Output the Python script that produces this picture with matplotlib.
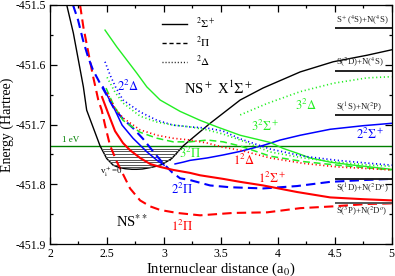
import numpy as np
import matplotlib
matplotlib.use("Agg")
import matplotlib.pyplot as plt
from matplotlib.ticker import MultipleLocator, FormatStrFormatter

# ---- curves (R in a0, E in Hartree) ----
ns_x = [2.147, 2.205, 2.249, 2.293, 2.322, 2.439, 2.498, 2.554, 2.60, 2.66, 2.72, 2.76,
        2.81, 2.87, 2.93, 2.982, 3.069, 3.171, 3.406, 3.670, 3.87, 4.197, 4.487, 4.786, 5.0]
ns_e = [-451.500, -451.547, -451.592, -451.637, -451.676, -451.7355, -451.757, -451.768,
        -451.7715, -451.774, -451.775, -451.775, -451.7745, -451.7725, -451.770, -451.767,
        -451.757, -451.7355, -451.698, -451.659, -451.639, -451.612, -451.595, -451.584, -451.575]

pi1_x = [2.264, 2.293, 2.337, 2.380, 2.424, 2.454, 2.483, 2.527, 2.586, 2.633, 2.703, 2.791,
         2.879, 2.967, 3.116, 3.318, 3.608, 3.907, 4.197, 4.487, 4.786, 5.0]
pi1_e = [-451.500, -451.537, -451.580, -451.621, -451.659, -451.676, -451.701, -451.735,
         -451.762, -451.780, -451.807, -451.827, -451.837, -451.843, -451.848, -451.852,
         -451.848, -451.847, -451.840, -451.837, -451.833, -451.832]

pi2_x = [2.202, 2.246, 2.290, 2.334, 2.378, 2.439, 2.501, 2.562, 2.633, 2.729, 2.817, 2.905,
         2.984, 3.072, 3.142, 3.230, 3.406, 3.582, 3.872, 4.170, 4.460, 4.750, 5.0]
pi2_e = [-451.500, -451.525, -451.559, -451.587, -451.609, -451.631, -451.652, -451.673,
         -451.689, -451.706, -451.724, -451.745, -451.763, -451.780, -451.790, -451.793,
         -451.802, -451.805, -451.807, -451.803, -451.796, -451.793, -451.791]

pi3_x = [2.492, 2.562, 2.641, 2.791, 2.940, 3.081, 3.230, 3.380, 3.520, 3.670, 3.933, 4.223,
         4.522, 4.812, 5.0]
pi3_e = [-451.639, -451.669, -451.693, -451.713, -451.723, -451.729, -451.729, -451.726,
         -451.729, -451.736, -451.753, -451.762, -451.768, -451.773, -451.776]

sig1_x = [2.457, 2.510, 2.571, 2.641, 2.703, 2.791, 2.879, 2.967, 3.081, 3.230, 3.318, 3.520,
          3.670, 3.872, 4.170, 4.460, 4.750, 5.0]
sig1_e = [-451.654, -451.681, -451.711, -451.731, -451.743, -451.756, -451.766, -451.771,
          -451.776, -451.781, -451.785, -451.791, -451.796, -451.802, -451.813, -451.822,
          -451.825, -451.827]

sig2a_x = [2.466, 2.518, 2.571, 2.633, 2.729, 2.852, 2.940, 3.002]
sig2a_e = [-451.637, -451.657, -451.676, -451.701, -451.723, -451.746, -451.760, -451.768]
sig2b_x = [3.098, 3.169, 3.230, 3.380, 3.520, 3.670, 3.872, 4.021, 4.197, 4.460, 4.750, 5.0]
sig2b_e = [-451.766, -451.763, -451.760, -451.756, -451.751, -451.745, -451.735, -451.726,
           -451.718, -451.708, -451.702, -451.698]

sig3_x = [2.483, 2.586, 2.674, 2.762, 2.850, 2.967, 3.142, 3.318, 3.467, 3.670, 3.933, 4.047,
          4.170, 4.285, 4.460, 4.663, 4.812, 5.0]
sig3_e = [-451.542, -451.570, -451.592, -451.614, -451.637, -451.659, -451.678, -451.693,
          -451.704, -451.718, -451.730, -451.740, -451.748, -451.756, -451.763, -451.768,
          -451.771, -451.775]

del1_x = [2.501, 2.571, 2.641, 2.791, 2.940, 3.081, 3.230, 3.380, 3.520, 3.670, 3.933, 4.223,
          4.522, 4.812, 5.0]
del1_e = [-451.647, -451.673, -451.689, -451.709, -451.718, -451.723, -451.726, -451.731,
          -451.738, -451.743, -451.756, -451.765, -451.771, -451.774, -451.776]

del2_x = [2.483, 2.527, 2.580, 2.641, 2.791, 2.940, 3.081, 3.230, 3.380, 3.520, 3.670, 3.933,
          4.223, 4.522, 4.812, 5.0]
del2_e = [-451.595, -451.617, -451.639, -451.659, -451.679, -451.693, -451.701, -451.704,
          -451.706, -451.711, -451.724, -451.741, -451.753, -451.760, -451.765, -451.768]

del3_x = [2.501, 2.571, 2.641, 2.791, 2.940, 3.081, 3.230, 3.380, 3.520, 3.670, 3.933, 4.223,
          4.522, 4.812, 5.0]
del3_e = [-451.621, -451.646, -451.664, -451.686, -451.696, -451.701, -451.704, -451.709,
          -451.716, -451.726, -451.746, -451.756, -451.763, -451.768, -451.770]

del3b_x = [3.670, 3.904, 4.197, 4.487, 4.783, 5.0]
del3b_e = [-451.684, -451.665, -451.645, -451.631, -451.622, -451.620]

# vibrational levels of NS+ X and the 1 eV line
vib_e = [-451.7404, -451.7451, -451.7496, -451.7543, -451.7588, -451.7634, -451.7677, -451.7717]
one_ev = -451.7355

# dissociation limits
limit_e = [-451.5385, -451.6097, -451.684, -451.7915, -451.8317]
limit_lab = [r'S$^+$($^4$S)+N($^4$S)', r'S($^2$D)+N($^4$S)', r'S($^1$S)+N($^2$P)',
             r'S($^1$D)+N($^2$D$^o$)', r'S($^3$P)+N($^2$D$^o$)']

plt.rcParams['font.family'] = 'serif'
plt.rcParams['font.serif'] = ['Liberation Serif', 'DejaVu Serif']
plt.rcParams['mathtext.fontset'] = 'stix'
plt.rcParams['axes.unicode_minus'] = False

RED = '#ff0000'
BLUE = '#0000ff'
GREEN = '#22ee22'

fig = plt.figure(figsize=(3.95, 2.76), dpi=100)
ax = fig.add_axes([0.1266, 0.1159, 0.8649, 0.866])

dash = (4.5, 2.5)
dot = (0.7, 1.6)

ax.axhline(one_ev, color='#008000', lw=1.0)

ax.plot(ns_x, ns_e, color='black', lw=1.0)
# vib levels between the two walls
imin = int(np.argmin(ns_e))
lx, le = np.array(ns_x[:imin + 1]), np.array(ns_e[:imin + 1])
rx, re_ = np.array(ns_x[imin:]), np.array(ns_e[imin:])
for e in vib_e:
    x1 = np.interp(e, le[::-1], lx[::-1])
    x2 = np.interp(e, re_, rx)
    ax.plot([x1, x2], [e, e], color='#555555', lw=0.7)

ax.plot(pi1_x, pi1_e, color=RED, lw=1.5, dashes=dash)
ax.plot(pi2_x, pi2_e, color=BLUE, lw=1.5, dashes=dash)
ax.plot(pi3_x, pi3_e, color=GREEN, lw=1.1, dashes=dash)
ax.plot(sig1_x, sig1_e, color=RED, lw=1.5)
ax.plot(sig2a_x, sig2a_e, color=BLUE, lw=1.1)
ax.plot(sig2b_x, sig2b_e, color=BLUE, lw=1.1)
ax.plot(sig3_x, sig3_e, color=GREEN, lw=1.0)
ax.plot(del1_x, del1_e, color=RED, lw=1.2, dashes=dot)
ax.plot(del2_x, del2_e, color=BLUE, lw=1.2, dashes=dot)
ax.plot(del3_x, del3_e, color=GREEN, lw=1.2, dashes=dot)
ax.plot(del3b_x, del3b_e, color=GREEN, lw=1.2, dashes=dot)

for i, (e, lab) in enumerate(zip(limit_e, limit_lab)):
    c = '#555555' if i == 4 else '#222222'
    ax.plot([4.5, 5.0], [e, e], color=c, lw=1.4, solid_capstyle='butt')
    if i < 3:
        ax.text(4.51, e + 0.002, lab, fontsize=6.3, va='bottom', ha='left', color='#222222')
    else:
        ax.text(4.51, e - 0.003, lab, fontsize=6.3, va='top', ha='left', color='#222222')

# state labels
ax.text(3.476, -451.639, r'NS$^+$ X$^1\Sigma^+$', fontsize=10.5, ha='center', va='center')
ax.text(2.72, -451.863, r'NS$^{**}$', fontsize=10.5, ha='center', va='center')
ax.text(2.685, -451.637, r'$2^2\Delta$', fontsize=9, color=BLUE, ha='center', va='center')
ax.text(3.23, -451.749, r'$3^2\Pi$', fontsize=9, color=GREEN, ha='center', va='center')
ax.text(3.16, -451.808, r'$2^2\Pi$', fontsize=9, color=BLUE, ha='center', va='center')
ax.text(3.16, -451.870, r'$1^2\Pi$', fontsize=9, color=RED, ha='center', va='center')
ax.text(3.705, -451.760, r'$1^2\Delta$', fontsize=9, color=RED, ha='center', va='center')
ax.text(3.951, -451.790, r'$1^2\Sigma^+$', fontsize=9, color=RED, ha='center', va='center')
ax.text(4.812, -451.716, r'$2^2\Sigma^+$', fontsize=9, color=BLUE, ha='center', va='center')
ax.text(3.889, -451.704, r'$3^2\Sigma^+$', fontsize=9, color=GREEN, ha='center', va='center')
ax.text(4.25, -451.6675, r'$3^2\Delta$', fontsize=9, color=GREEN, ha='center', va='center')
ax.text(2.185, -451.726, '1 eV', fontsize=6.5, color='#008000', ha='center', va='center')
ax.text(2.64, -451.779, r'v$^+_{\rm i}$=0', fontsize=6.5, ha='right', va='center')

# legend
h1, = ax.plot([], [], color='black', lw=1.0)
h2, = ax.plot([], [], color='black', lw=1.0, dashes=(3, 2))
h3, = ax.plot([], [], color='black', lw=1.0, dashes=(0.7, 1.5))
ax.legend([h1, h2, h3], [r'$^2\Sigma^+$', r'$^2\Pi$', r'$^2\Delta$'], loc='upper left',
          bbox_to_anchor=(0.30, 0.995), frameon=False, fontsize=8, handlelength=2.2,
          labelspacing=0.35, handletextpad=0.8)

ax.set_xlim(2, 5)
ax.set_ylim(-451.9, -451.5)
ax.xaxis.set_major_locator(MultipleLocator(0.5))
ax.xaxis.set_minor_locator(MultipleLocator(0.25))
ax.yaxis.set_major_locator(MultipleLocator(0.1))
ax.yaxis.set_minor_locator(MultipleLocator(0.05))
ax.xaxis.set_major_formatter(FormatStrFormatter('%g'))
ax.yaxis.set_major_formatter(FormatStrFormatter('%.1f'))
ax.tick_params(which='both', direction='in', top=True, right=True, labelsize=8.5, width=0.9)
ax.tick_params(which='major', length=5, pad=3)
ax.tick_params(which='minor', length=2.5)
for s in ax.spines.values():
    s.set_linewidth(0.9)

ax.set_xlabel(r'Internuclear distance (a$_0$)', fontsize=10.5, labelpad=0)
ax.set_ylabel('Energy (Hartree)', fontsize=10, labelpad=1)

fig.savefig('out.png', dpi=100)
